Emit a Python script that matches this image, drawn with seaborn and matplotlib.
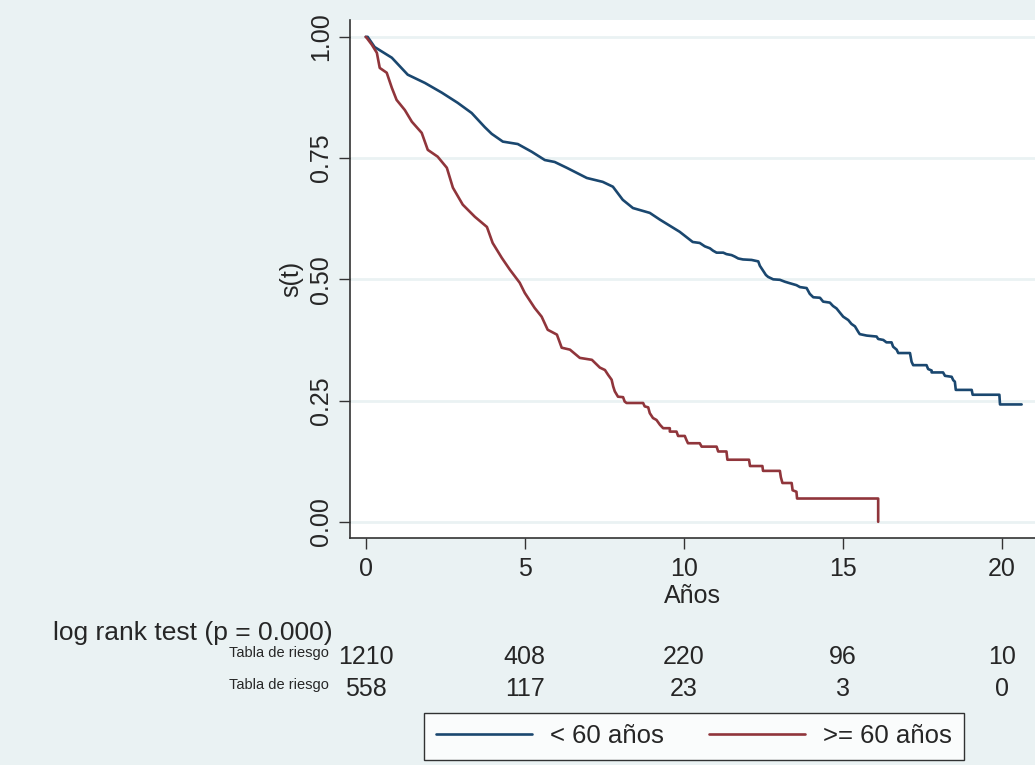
import matplotlib
matplotlib.use("Agg")
import matplotlib.pyplot as plt
import matplotlib.transforms as mtransforms
import seaborn as sns
import pandas as pd

# Kaplan-Meier curves (vertices of the drawn path)
t_menor60 = [0.0, 0.06, 0.28, 0.82, 1.32, 1.86, 2.39, 2.89, 3.33, 3.74, 3.96, 4.31, 4.78,
             5.22, 5.63, 5.94, 6.32, 6.95, 7.45, 7.77, 8.08, 8.40, 8.93, 9.25, 9.87,
             10.28, 10.50, 10.66, 10.82, 10.92, 11.03, 11.24, 11.34, 11.50, 11.60, 11.71,
             11.86, 12.13, 12.34, 12.39, 12.49, 12.58, 12.65, 12.81, 13.02, 13.18, 13.33,
             13.54, 13.65, 13.86, 13.96, 14.07, 14.28, 14.38, 14.59, 14.69, 14.80, 14.91,
             15.01, 15.17, 15.27, 15.38, 15.48, 15.53, 15.75, 16.06, 16.11, 16.27, 16.37,
             16.53, 16.58, 16.69, 16.74, 17.11, 17.16, 17.21, 17.63, 17.68, 17.79, 17.79,
             18.15, 18.21, 18.42, 18.47, 18.52, 18.55, 19.05, 19.08, 19.92, 19.94, 20.62]
s_menor60 = [1.0, 1.0, 0.979, 0.957, 0.922, 0.905, 0.885, 0.864, 0.843, 0.814, 0.800, 0.784, 0.779,
             0.763, 0.746, 0.742, 0.730, 0.709, 0.701, 0.691, 0.664, 0.647, 0.637, 0.623, 0.598,
             0.577, 0.575, 0.568, 0.564, 0.559, 0.555, 0.555, 0.552, 0.550, 0.547, 0.543,
             0.541, 0.540, 0.537, 0.528, 0.518, 0.509, 0.505, 0.500, 0.499, 0.495, 0.492,
             0.488, 0.484, 0.482, 0.470, 0.463, 0.462, 0.454, 0.452, 0.445, 0.440, 0.431,
             0.423, 0.416, 0.408, 0.403, 0.392, 0.387, 0.384, 0.382, 0.377, 0.375, 0.370,
             0.370, 0.361, 0.355, 0.348, 0.348, 0.330, 0.323, 0.323, 0.315, 0.312, 0.308,
             0.308, 0.301, 0.299, 0.292, 0.289, 0.272, 0.272, 0.262, 0.262, 0.242, 0.242]

t_mayor60 = [0.0, 0.03, 0.19, 0.35, 0.44, 0.66, 0.82, 0.97, 1.23, 1.45, 1.76, 1.95, 2.26, 2.55,
             2.74, 3.05, 3.43, 3.81, 3.99, 4.28, 4.53, 4.84, 5.00, 5.31, 5.53, 5.72,
             6.01, 6.16, 6.42, 6.73, 7.11, 7.36, 7.52, 7.62, 7.73, 7.78, 7.83, 7.93, 8.09,
             8.14, 8.20, 8.72, 8.77, 8.88, 8.93, 9.03, 9.14, 9.25, 9.35, 9.56, 9.56, 9.77,
             9.82, 10.03, 10.08, 10.13, 10.50, 10.56, 11.03, 11.08, 11.34, 11.37, 12.05,
             12.08, 12.47, 12.49, 13.02, 13.05, 13.10, 13.39, 13.42, 13.54, 13.56, 16.11, 16.11]
s_mayor60 = [1.0, 0.998, 0.984, 0.967, 0.936, 0.926, 0.895, 0.870, 0.849, 0.825, 0.802, 0.767, 0.753, 0.730,
             0.689, 0.654, 0.629, 0.608, 0.575, 0.544, 0.520, 0.493, 0.472, 0.441, 0.423, 0.396,
             0.386, 0.359, 0.355, 0.338, 0.334, 0.318, 0.313, 0.303, 0.293, 0.279, 0.269, 0.258, 0.257,
             0.248, 0.245, 0.245, 0.238, 0.236, 0.224, 0.214, 0.210, 0.200, 0.193, 0.193, 0.186, 0.186,
             0.177, 0.177, 0.169, 0.162, 0.162, 0.155, 0.155, 0.145, 0.145, 0.128, 0.128,
             0.115, 0.115, 0.105, 0.105, 0.092, 0.080, 0.080, 0.065, 0.062, 0.048, 0.048, 0.0]

grupos = ["< 60 años", ">= 60 años"]
colores = {"< 60 años": "#1a476f", ">= 60 años": "#90353b"}

x_ticks = [0, 5, 10, 15, 20]
y_ticks = [0.0, 0.25, 0.50, 0.75, 1.00]
riesgo_menor60 = [1210, 408, 220, 96, 10]
riesgo_mayor60 = [558, 117, 23, 3, 0]

df = pd.concat([
    pd.DataFrame({"t": t_menor60, "s": s_menor60, "grupo": grupos[0]}),
    pd.DataFrame({"t": t_mayor60, "s": s_mayor60, "grupo": grupos[1]}),
], ignore_index=True)

sns.set_theme(style="white")
plt.rcParams["font.family"] = ["Liberation Sans", "DejaVu Sans"]
fondo = "#eaf2f3"

fig = plt.figure(figsize=(10.35, 7.65), dpi=100, facecolor=fondo)
ax = fig.add_axes([0.338, 0.297, 0.662, 0.677])
ax.set_facecolor("white")

sns.lineplot(data=df, x="t", y="s", hue="grupo", palette=colores, estimator=None,
             sort=False, linewidth=1.9, ax=ax)

ax.set_xlim(-0.5, 21.04)
ax.set_ylim(-0.033, 1.035)
ax.set_xticks(x_ticks)
ax.set_yticks(y_ticks)
ax.set_yticklabels([f"{v:.2f}" for v in y_ticks], rotation=90, va="center")
ax.tick_params(axis="both", labelsize=18, length=8, width=1, color="#333333",
               direction="out", pad=6, left=True, bottom=True)
ax.tick_params(axis="y", pad=4)
ax.yaxis.grid(True, color=fondo, linewidth=2)
ax.xaxis.grid(False)
for lado in ["top", "right"]:
    ax.spines[lado].set_visible(False)
for lado in ["left", "bottom"]:
    ax.spines[lado].set_color("#333333")
    ax.spines[lado].set_linewidth(1.2)

ax.set_xlabel("Años", fontsize=18, labelpad=2)
ax.set_ylabel("s(t)", fontsize=18, labelpad=4)

# log rank and risk table below the axis
fig.text(0.051, 0.172, "log rank test (p = 0.000)", fontsize=19, ha="left", va="center")
trans = mtransforms.blended_transform_factory(ax.transData, fig.transFigure)
for fila_y, valores in [(0.141, riesgo_menor60), (0.100, riesgo_mayor60)]:
    fig.text(0.318, fila_y + 0.005, "Tabla de riesgo", fontsize=10.5, ha="right", va="center")
    for xt, n in zip(x_ticks, valores):
        ax.text(xt, fila_y, str(n), transform=trans, fontsize=18, ha="center", va="center",
                clip_on=False)

handles, labels = ax.get_legend_handles_labels()
ax.get_legend().remove()
leg = fig.legend(handles, labels, loc="center", bbox_to_anchor=(0.6705, 0.0373), ncol=2,
                 fontsize=18.5, handlelength=3.75, handletextpad=0.7, columnspacing=1.75,
                 frameon=True, fancybox=False, edgecolor="black", facecolor="white",
                 borderpad=0.45)
leg.get_frame().set_linewidth(1.0)
for linea in leg.get_lines():
    linea.set_linewidth(1.9)

fig.savefig("out.png", dpi=100, facecolor=fondo)
